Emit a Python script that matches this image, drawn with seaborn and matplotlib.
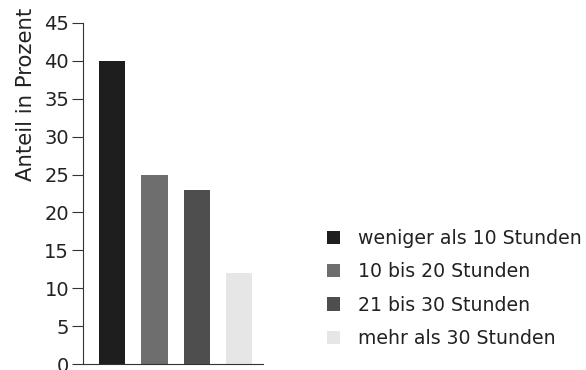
import matplotlib
matplotlib.use("Agg")
import matplotlib.pyplot as plt
import seaborn as sns
import pandas as pd
from matplotlib.patches import Patch

categories = ["weniger als 10 Stunden", "10 bis 20 Stunden", "21 bis 30 Stunden", "mehr als 30 Stunden"]
values = [40, 25, 23, 12]
colors = ["#1e1e1e", "#6e6e6e", "#4e4e4e", "#e6e6e6"]
yticks = [0, 5, 10, 15, 20, 25, 30, 35, 40, 45]

sns.set_theme(style="white")
plt.rcParams["font.family"] = ["DejaVu Sans"]

df = pd.DataFrame({"Kategorie": categories, "Anteil": values})

fig = plt.figure(figsize=(5.86, 3.70), dpi=100)
ax = fig.add_axes([83/586, 1-364/370, (263-83)/586, (364-23)/370])
sns.barplot(data=df, x="Kategorie", y="Anteil", hue="Kategorie", palette=colors,
            legend=False, width=0.62, ax=ax, saturation=1, edgecolor="none")

ax.set_xlim(-0.69, 3.57)
ax.set_ylim(0, 45)
ax.set_yticks(yticks)
ax.set_yticklabels([str(t) for t in yticks], fontsize=14, color="#222222")
ax.set_xticks([])
ax.set_xlabel("")
ax.set_ylabel("Anteil in Prozent", fontsize=15.3, color="#222222")
ax.yaxis.set_label_coords(-0.26, 0.79)
ax.tick_params(axis="y", direction="out", length=8, width=0.8, color="#333333", pad=2, left=True)
for s in ["top", "right"]:
    ax.spines[s].set_visible(False)
for s in ["left", "bottom"]:
    ax.spines[s].set_color("#333333")
    ax.spines[s].set_linewidth(0.8)

handles = [Patch(facecolor=c, edgecolor="none") for c in colors]
fig.legend(handles, categories, loc="upper left", bbox_to_anchor=(327/586, 1-229/370),
           frameon=False, fontsize=13.6, handlelength=0.7, handleheight=0.7,
           handletextpad=0.95, labelspacing=0.76, borderpad=0, borderaxespad=0,
           labelcolor="#222222")

fig.savefig("out.png", dpi=100)
